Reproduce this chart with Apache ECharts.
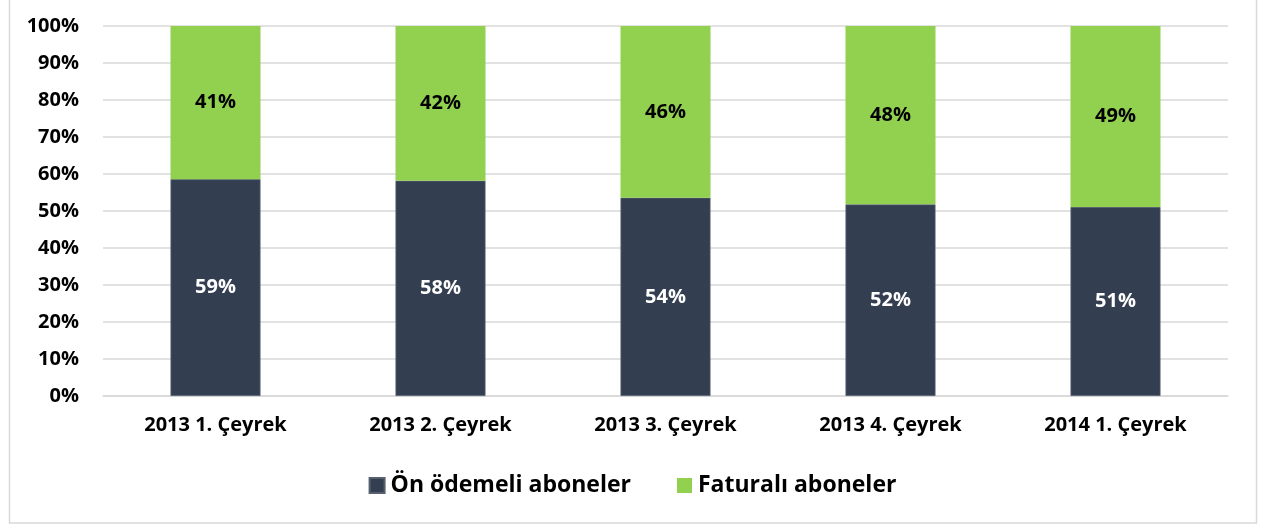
<!DOCTYPE html>
<html>
<head>
<meta charset="utf-8">
<script src="https://cdn.jsdelivr.net/npm/echarts@6/dist/echarts.min.js"></script>
<style>
html,body{margin:0;padding:0;background:#fff;}
#c{width:1265px;height:527px;}
</style>
</head>
<body>
<div id="c"></div>
<script>
const categories = ["2013 1. Çeyrek", "2013 2. Çeyrek", "2013 3. Çeyrek", "2013 4. Çeyrek", "2014 1. Çeyrek"];
const onOdemeli = [58.6, 58.2, 53.6, 51.8, 51.1];
const faturali = [41.4, 41.8, 46.4, 48.2, 48.9];
const seriesNames = ["Ön ödemeli aboneler", "Faturalı aboneler"];
const yTicks = [0, 10, 20, 30, 40, 50, 60, 70, 80, 90, 100];

const FONT = "'Open Sans', sans-serif";
const chart = echarts.init(document.getElementById('c'), null, {renderer: 'canvas'});
chart.setOption({
  animation: false,
  backgroundColor: '#fff',
  graphic: [{
    type: 'rect', silent: true,
    shape: {x: 9.5, y: -2, width: 1247, height: 525},
    style: {fill: 'none', stroke: '#d9d9d9', lineWidth: 1.5}
  }],
  grid: {left: 103, right: 37, top: 26, bottom: 131},
  legend: {
    bottom: 25, left: 'center',
    itemWidth: 15, itemHeight: 15, itemGap: 46,
    icon: 'rect',
    textStyle: {fontFamily: FONT, fontSize: 23, fontWeight: 'bold', color: '#000', padding: [0, 0, 0, 1]},
    data: seriesNames
  },
  xAxis: {
    type: 'category', data: categories,
    axisLine: {lineStyle: {color: '#d9d9d9', width: 1.5}},
    axisTick: {show: false},
    axisLabel: {fontFamily: FONT, fontSize: 20, fontWeight: 'bold', color: '#000', margin: 19}
  },
  yAxis: {
    type: 'value', min: yTicks[0], max: yTicks[yTicks.length-1], interval: 10,
    axisLine: {show: false}, axisTick: {show: false},
    splitLine: {lineStyle: {color: '#d9d9d9', width: 1.5}},
    axisLabel: {fontFamily: FONT, fontSize: 20, fontWeight: 'bold', color: '#000', margin: 24,
      formatter: v => v + '%'}
  },
  series: [
    {
      name: seriesNames[0], type: 'bar', stack: 'a', data: onOdemeli, barWidth: 90,
      itemStyle: {color: '#333f50', borderColor: '#56606e', borderWidth: 0.8},
      label: {show: true, position: 'inside', fontFamily: FONT, fontSize: 20, fontWeight: 'bold', color: '#fff',
        formatter: p => Math.round(p.value) + '%'}
    },
    {
      name: seriesNames[1], type: 'bar', stack: 'a', data: faturali, barWidth: 90,
      itemStyle: {color: '#92d050'},
      label: {show: true, position: 'inside', fontFamily: FONT, fontSize: 20, fontWeight: 'bold', color: '#000',
        formatter: p => Math.round(p.value) + '%'}
    }
  ]
});
</script>
</body>
</html>
